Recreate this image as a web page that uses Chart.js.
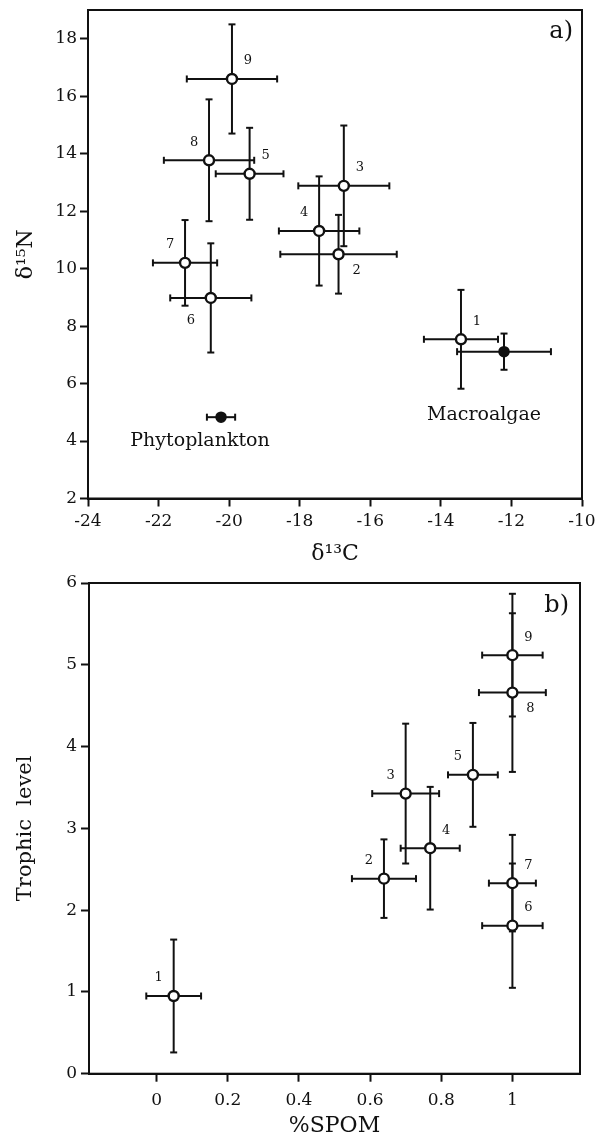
<!DOCTYPE html>
<html>
<head>
<meta charset="utf-8">
<script src="https://cdn.jsdelivr.net/npm/chart.js@4.4.1/dist/chart.umd.min.js"></script>
<style>
  html, body { margin: 0; padding: 0; background: #fff; }
  canvas { display: block; }
</style>
</head>
<body>
<canvas id="chartA" width="596" height="570"></canvas>
<canvas id="chartB" width="596" height="573"></canvas>
<script>
// panel a) consumers 1-9, mean +/- SD
const consumerIds = ['1', '2', '3', '4', '5', '6', '7', '8', '9'];
const d13C = [-13.43, -16.9, -16.75, -17.45, -19.42, -20.52, -21.25, -20.57, -19.92];
const d13CErr = [1.05, 1.65, 1.29, 1.14, 0.96, 1.15, 0.91, 1.28, 1.28];
const d15N = [7.54, 10.5, 12.88, 11.31, 13.3, 8.98, 10.2, 13.77, 16.6];
const d15NErr = [1.72, 1.37, 2.1, 1.9, 1.6, 1.9, 1.49, 2.12, 1.9];

// panel a) food sources
const sourceNames = ['Phytoplankton', 'Macroalgae'];
const sourceD13C = [-20.23, -12.21];
const sourceD13CErr = [0.4, 1.33];
const sourceD15N = [4.83, 7.11];
const sourceD15NErr = [0, 0.63];

// panel b) %SPOM vs trophic level
const spom = [0.048, 0.639, 0.70, 0.769, 0.889, 1.0, 1.0, 1.0, 1.0];
const spomErr = [0.077, 0.09, 0.094, 0.083, 0.07, 0.085, 0.066, 0.094, 0.085];
const trophic = [0.95, 2.385, 3.425, 2.757, 3.654, 1.81, 2.33, 4.66, 5.118];
const trophicErr = [0.69, 0.48, 0.855, 0.75, 0.635, 0.76, 0.59, 0.97, 0.75];

// tick labels
const xTicksA = [-24, -22, -20, -18, -16, -14, -12, -10];
const yTicksA = [2, 4, 6, 8, 10, 12, 14, 16, 18];
const xTicksB = [0, 0.2, 0.4, 0.6, 0.8, 1];
const yTicksB = [0, 1, 2, 3, 4, 5, 6];

// where each number label sits around its point
const labelSideA = ['ne', 'se', 'ne', 'nw', 'ne', 'sw', 'nw', 'nw', 'ne'];
const labelSideB = ['nw', 'nw', 'nw', 'ne', 'nw', 'ne', 'ne', 'se', 'ne'];
const sideOffset = { ne: [16, -18], nw: [-15, -18], se: [18, 16], sw: [-20, 23] };
const sourceLabelOffset = [[-21, 24], [-20, 63]];

const SERIF = '"DejaVu Serif", serif';
const INK = '#111';

Chart.defaults.font.family = SERIF;
Chart.defaults.color = INK;

function toPoints(xs, ys) {
    return xs.map((v, i) => ({ x: v, y: ys[i] }));
}

function line(ctx, x0, y0, x1, y1) {
    ctx.beginPath();
    ctx.moveTo(x0, y0);
    ctx.lineTo(x1, y1);
    ctx.stroke();
}

// error bars with caps, drawn under the markers
const errorBars = {
    id: 'errorBars',
    beforeDatasetsDraw(chart) {
        const { ctx, scales: { x, y } } = chart;
        const cap = 3.5;
        ctx.save();
        ctx.strokeStyle = INK;
        ctx.lineWidth = 2;
        chart.data.datasets.forEach(ds => {
            ds.data.forEach((p, i) => {
                const px = x.getPixelForValue(p.x);
                const py = y.getPixelForValue(p.y);
                const ex = ds.errX[i];
                const ey = ds.errY[i];
                if (ex) {
                    const x0 = x.getPixelForValue(p.x - ex);
                    const x1 = x.getPixelForValue(p.x + ex);
                    line(ctx, x0, py, x1, py);
                    line(ctx, x0, py - cap, x0, py + cap);
                    line(ctx, x1, py - cap, x1, py + cap);
                }
                if (ey) {
                    const y0 = y.getPixelForValue(p.y - ey);
                    const y1 = y.getPixelForValue(p.y + ey);
                    line(ctx, px, y0, px, y1);
                    line(ctx, px - cap, y0, px + cap, y0);
                    line(ctx, px - cap, y1, px + cap, y1);
                }
            });
        });
        ctx.restore();
    }
};

// number / name labels next to the points
const pointLabels = {
    id: 'pointLabels',
    afterDatasetsDraw(chart) {
        const { ctx, scales: { x, y } } = chart;
        ctx.save();
        ctx.fillStyle = INK;
        ctx.textAlign = 'center';
        ctx.textBaseline = 'middle';
        chart.data.datasets.forEach(ds => {
            if (!ds.tags) return;
            ctx.font = ds.tagFont;
            ds.data.forEach((p, i) => {
                const px = x.getPixelForValue(p.x);
                const py = y.getPixelForValue(p.y);
                const off = ds.tagOffsets[i];
                ctx.fillText(ds.tags[i], px + off[0], py + off[1]);
            });
        });
        ctx.restore();
    }
};

// closed frame + panel letter
const frame = {
    id: 'frame',
    afterDraw(chart, args, opts) {
        const { ctx, chartArea: a } = chart;
        ctx.save();
        ctx.strokeStyle = INK;
        ctx.lineWidth = 2;
        ctx.strokeRect(a.left, a.top, a.right - a.left, a.bottom - a.top);
        ctx.font = '24px ' + SERIF;
        ctx.textAlign = 'right';
        ctx.textBaseline = 'middle';
        ctx.fillStyle = INK;
        ctx.fillText(opts.letter, a.right - opts.dx, a.top + opts.dy);
        ctx.restore();
    }
};

function makeAxis(min, max, tickValues, title, titleSize, titlePad, tickPad, fit) {
    return {
        type: 'linear',
        min: min,
        max: max,
        afterBuildTicks: scale => { scale.ticks = tickValues.map(v => ({ value: v })); },
        afterFit: fit,
        grid: { drawOnChartArea: false, drawTicks: true, tickLength: 8, tickColor: INK, tickWidth: 2 },
        border: { display: true, color: INK, width: 2 },
        ticks: {
            color: INK,
            font: { size: 17, family: SERIF },
            callback: v => String(v),
            maxRotation: 0,
            autoSkip: false,
            padding: tickPad
        },
        title: { display: true, text: title, color: INK, font: { size: titleSize, family: SERIF }, padding: titlePad }
    };
}

function createScatter(canvasId, datasets, scales, padding, letterOpts) {
    const ctx = document.getElementById(canvasId).getContext('2d');
    return new Chart(ctx, {
        type: 'scatter',
        data: { datasets: datasets },
        options: {
            responsive: false,
            animation: false,
            devicePixelRatio: 1,
            layout: { padding: padding },
            plugins: {
                legend: { display: false },
                tooltip: { enabled: false },
                frame: letterOpts
            },
            scales: scales
        },
        plugins: [errorBars, pointLabels, frame]
    });
}

const openMarker = {
    pointRadius: 5,
    pointBorderWidth: 2.4,
    pointBackgroundColor: '#fff',
    pointBorderColor: INK
};

// ---- panel a)
createScatter('chartA', [
    Object.assign({
        data: toPoints(d13C, d15N),
        errX: d13CErr,
        errY: d15NErr,
        tags: consumerIds,
        tagFont: '13px ' + SERIF,
        tagOffsets: labelSideA.map(s => sideOffset[s])
    }, openMarker),
    {
        data: toPoints(sourceD13C, sourceD15N),
        errX: sourceD13CErr,
        errY: sourceD15NErr,
        tags: sourceNames,
        tagFont: '19px ' + SERIF,
        tagOffsets: sourceLabelOffset,
        pointRadius: 5,
        pointBorderWidth: 1.5,
        pointBackgroundColor: INK,
        pointBorderColor: INK
    }
], {
    x: makeAxis(-24, -10, xTicksA, 'δ¹³C', 22, { top: 0, bottom: 3 }, 5,
        s => { s.height = 71.5; s.paddingRight = 0; s.paddingLeft = 0; }),
    y: makeAxis(2, 19, yTicksA, 'δ¹⁵N', 22, { top: 13, bottom: 0 }, 3,
        s => { s.width = 88; s.paddingTop = 0; s.paddingBottom = 0; })
}, { top: 10, right: 14, left: 0, bottom: 0 }, { letter: 'a)', dx: 9, dy: 22 });

// ---- panel b)
createScatter('chartB', [
    Object.assign({
        data: toPoints(spom, trophic),
        errX: spomErr,
        errY: trophicErr,
        tags: consumerIds,
        tagFont: '13px ' + SERIF,
        tagOffsets: labelSideB.map(s => sideOffset[s])
    }, openMarker)
], {
    x: makeAxis(-0.19, 1.19, xTicksB, '%SPOM', 22, { top: 0, bottom: 4 }, 9,
        s => { s.height = 69.3; s.paddingRight = 0; s.paddingLeft = 0; }),
    y: makeAxis(0, 6, yTicksB, 'Trophic  level', 21, { top: 13, bottom: 0 }, 4,
        s => { s.width = 89; s.paddingTop = 0; s.paddingBottom = 0; })
}, { top: 13, right: 16, left: 0, bottom: 0 }, { letter: 'b)', dx: 11, dy: 23 });
</script>
</body>
</html>
